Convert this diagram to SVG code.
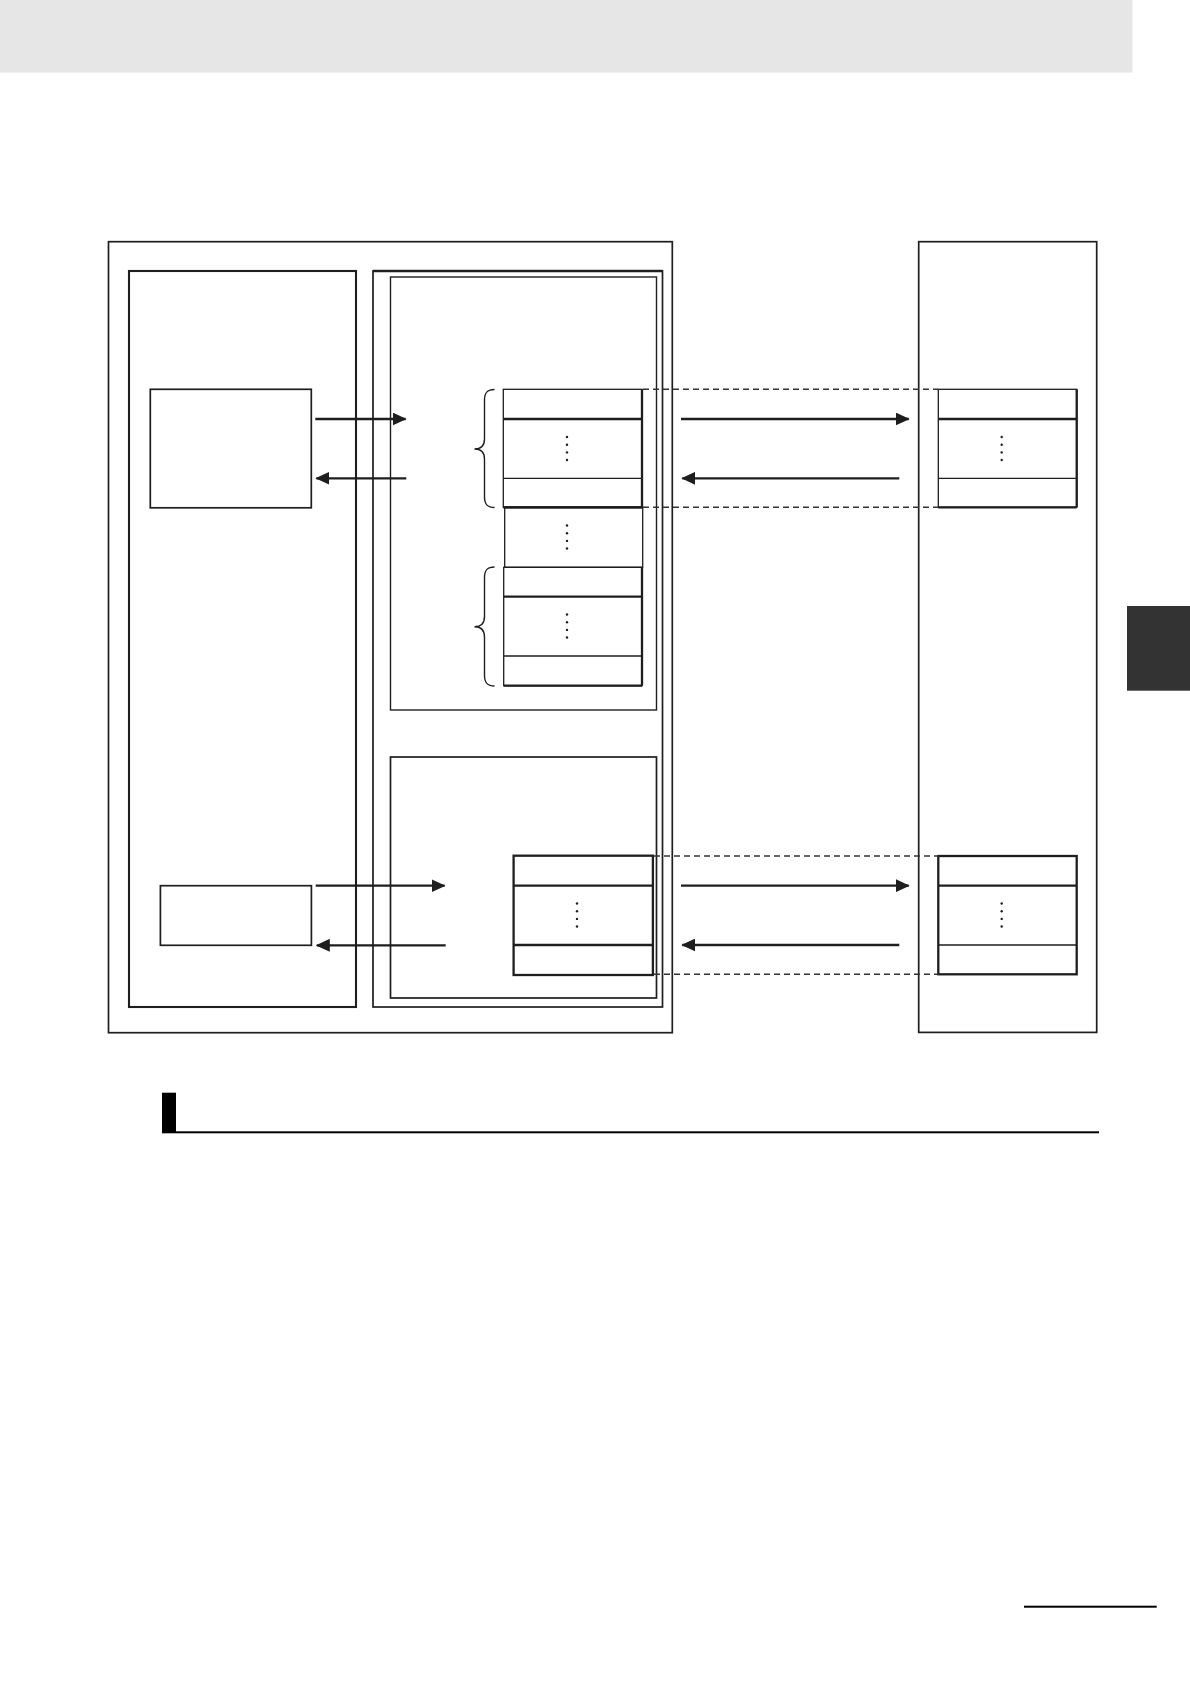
<svg xmlns="http://www.w3.org/2000/svg" width="1190" height="1684" viewBox="0 0 1190 1684">
<style>
.b{fill:none;stroke:#1e1e1e;stroke-width:1.7}
.bt{fill:none;stroke:#1e1e1e;stroke-width:2.1}
.bn{fill:none;stroke:#1e1e1e;stroke-width:1.4}
.tk{stroke:#1e1e1e;stroke-width:2.3;fill:none}
.tn{stroke:#1e1e1e;stroke-width:1.3;fill:none}
.dash{stroke:#333;stroke-width:1.6;stroke-dasharray:6 4;fill:none}
.arr{stroke:#1e1e1e;stroke-width:2.3;fill:none;marker-end:url(#ah)}
.brace{stroke:#1e1e1e;stroke-width:1.4;fill:none}
.dot{fill:#1e1e1e}
</style>
<defs>
<marker id="ah" markerWidth="14" markerHeight="13" refX="13" refY="6.5" orient="auto" markerUnits="userSpaceOnUse">
<path d="M0,0 L14,6.5 L0,13 z" fill="#1e1e1e"/>
</marker>
<g id="dots4">
<circle class="dot" cx="0" cy="0" r="1.2"/>
<circle class="dot" cx="0" cy="7.7" r="1.2"/>
<circle class="dot" cx="0" cy="15.4" r="1.2"/>
<circle class="dot" cx="0" cy="23" r="1.2"/>
</g>
</defs>
<rect width="1190" height="1684" fill="#fff"/>
<rect id="header-band" x="0" y="0" width="1132.5" height="72.5" fill="#e6e6e6"/>

<g id="outer-system"><rect class="b" x="108.5" y="241.7" width="563.8" height="791"/></g>
<g id="left-unit"><rect class="bt" x="129" y="271" width="227" height="736"/></g>
<g id="middle-unit"><rect class="b" x="373" y="271" width="289.5" height="736"/><line class="tk" x1="373" y1="271" x2="662.5" y2="271"/></g>
<g id="inner-upper"><rect class="bn" x="390.5" y="277" width="266" height="433"/></g>
<g id="inner-lower"><rect class="b" x="390.5" y="757" width="266" height="241"/></g>
<g id="right-unit"><rect class="b" x="918.7" y="241.7" width="178" height="790.7"/></g>

<g id="left-node-a"><rect class="b" x="150.3" y="389.3" width="161" height="118.5"/></g>
<g id="left-node-b"><rect class="b" x="160.4" y="885.7" width="151" height="59.6"/></g>

<g id="table-upper-left">
<rect class="tn" x="503.3" y="389.3" width="138.7" height="118"/>
<line class="tk" x1="503.3" y1="419" x2="642" y2="419"/>
<line class="tn" x1="503.3" y1="478.3" x2="642" y2="478.3"/>
<line class="tk" x1="503.3" y1="507.3" x2="642" y2="507.3"/>
<line class="tk" x1="642" y1="389.3" x2="642" y2="507.3"/>
<use href="#dots4" x="567" y="437"/>
</g>
<g id="table-upper-mid">
<rect class="tn" x="504.7" y="507.3" width="138" height="60"/>
<line class="tk" x1="504.7" y1="507.3" x2="642.7" y2="507.3"/>
<use href="#dots4" x="567" y="525.5"/>
</g>
<g id="table-upper-bottom">
<rect class="tn" x="503.7" y="567.3" width="138.3" height="118.4"/>
<line class="tk" x1="503.7" y1="596.7" x2="642" y2="596.7"/>
<line class="tn" x1="503.7" y1="656" x2="642" y2="656"/>
<line class="tk" x1="503.7" y1="685.7" x2="642" y2="685.7"/>
<line class="tk" x1="642" y1="567.3" x2="642" y2="685.7"/>
<use href="#dots4" x="567" y="614.5"/>
</g>
<g id="table-upper-right">
<rect class="tn" x="938.3" y="389.3" width="138.4" height="118"/>
<line class="tk" x1="938.3" y1="419" x2="1076.7" y2="419"/>
<line class="tn" x1="938.3" y1="478.3" x2="1076.7" y2="478.3"/>
<line class="tk" x1="938.3" y1="507.3" x2="1076.7" y2="507.3"/>
<line class="tk" x1="1076.7" y1="389.3" x2="1076.7" y2="507.3"/>
<use href="#dots4" x="1001.7" y="437"/>
</g>
<g id="table-lower-left">
<rect class="tk" x="513.6" y="855.7" width="139.3" height="119.3"/>
<line class="tk" x1="513.6" y1="885.7" x2="652.9" y2="885.7"/>
<line class="tk" x1="513.6" y1="945" x2="652.9" y2="945"/>
<use href="#dots4" x="577" y="903.5"/>
</g>
<g id="table-lower-right">
<rect class="tk" x="938.3" y="856" width="138.4" height="118.3"/>
<line class="tk" x1="938.3" y1="885.7" x2="1076.7" y2="885.7"/>
<line class="tn" x1="938.3" y1="945" x2="1076.7" y2="945"/>
<use href="#dots4" x="1001.7" y="903.5"/>
</g>

<g id="connectors">
<line class="arr" x1="315.3" y1="419" x2="405.6" y2="419"/>
<line class="arr" x1="406.3" y1="478.3" x2="316.4" y2="478.3"/>
<line class="arr" x1="681" y1="419" x2="908.7" y2="419"/>
<line class="arr" x1="899.3" y1="478.3" x2="682.3" y2="478.3"/>
<line class="arr" x1="315.7" y1="885.7" x2="444.6" y2="885.7"/>
<line class="arr" x1="445.7" y1="945.3" x2="316.8" y2="945.3"/>
<line class="arr" x1="681" y1="885.7" x2="908.7" y2="885.7"/>
<line class="arr" x1="899.3" y1="945" x2="682.3" y2="945"/>
<line class="dash" x1="643" y1="389.3" x2="938.3" y2="389.3"/>
<line class="dash" x1="643" y1="507.3" x2="938.3" y2="507.3"/>
<line class="dash" x1="654" y1="856" x2="938.3" y2="856"/>
<line class="dash" x1="654" y1="974.3" x2="938.3" y2="974.3"/>
<path class="brace" d="M494.5,389.5 C487,389.5 484.5,393 484.5,400 L484.5,439 C484.5,445.5 481,449 474.5,449 C481,449 484.5,452.5 484.5,459 L484.5,497 C484.5,504 487,507.5 494.5,507.5"/>
<path class="brace" d="M494.5,567 C487,567 484.5,570.5 484.5,577.5 L484.5,616.5 C484.5,623 481,626.7 474.5,626.7 C481,626.7 484.5,630.5 484.5,637 L484.5,675.5 C484.5,682.5 487,686 494.5,686"/>
</g>

<g id="section-heading">
<rect x="162" y="1092.7" width="14" height="40.6" fill="#000"/>
<rect x="176" y="1131.3" width="923" height="2" fill="#000"/>
</g>
<rect id="side-tab" x="1127" y="606" width="63" height="84.7" fill="#333"/>
<rect id="footer-rule" x="1024" y="1605.7" width="132.7" height="2" fill="#000"/>
</svg>
